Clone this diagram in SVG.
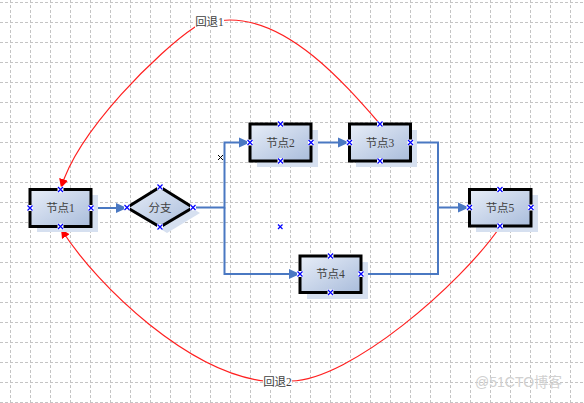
<svg xmlns="http://www.w3.org/2000/svg" xmlns:xlink="http://www.w3.org/1999/xlink" width="584" height="403" viewBox="0 0 584 403">
<style>
.grid{fill:none;stroke:#c4c4c4;stroke-width:1;stroke-dasharray:3 2;shape-rendering:crispEdges}
.box{stroke:#000;stroke-width:3;fill:url(#g)}
.sh{fill:#d6e0f0}
.lbl{font-family:"Liberation Serif","Noto Sans CJK SC",serif;font-size:11.5px;fill:#404040;text-anchor:middle;dominant-baseline:central}
.blue{fill:none;stroke:#4a78c2;stroke-width:2}
.red{fill:none;stroke:#ff2020;stroke-width:1.2}
.wm{font-family:"Liberation Sans","Noto Sans CJK SC",sans-serif;font-size:14px;fill:#d0d0d0;dominant-baseline:central}
</style>
<defs>
<linearGradient id="g" x1="0" y1="0" x2="1" y2="1">
<stop offset="0" stop-color="#e8eef8"/>
<stop offset="1" stop-color="#a9bcdb"/>
</linearGradient>
<marker id="ab" markerUnits="userSpaceOnUse" markerWidth="12" markerHeight="12" refX="11" refY="6" orient="auto">
<path d="M0,1 L11,6 L0,11 z" fill="#4a78c2"/>
</marker>
<marker id="ar" markerUnits="userSpaceOnUse" markerWidth="10" markerHeight="10" refX="9" refY="4.5" orient="auto">
<path d="M0,0 L9,4.5 L0,9 z" fill="#ff0000"/>
</marker>
<g id="cp">
<rect x="-3" y="-3" width="6" height="6" fill="#fff"/>
<path d="M-2.5,-2.5 L2.5,2.5 M2.5,-2.5 L-2.5,2.5" stroke="#0000ff" stroke-width="1.2"/>
</g>
</defs>
<rect width="584" height="403" fill="#fff"/>
<path class="grid" d="M10.5 0V403M30.5 0V403M50.5 0V403M70.5 0V403M90.5 0V403M110.5 0V403M130.5 0V403M150.5 0V403M170.5 0V403M190.5 0V403M210.5 0V403M230.5 0V403M250.5 0V403M270.5 0V403M290.5 0V403M310.5 0V403M330.5 0V403M350.5 0V403M370.5 0V403M390.5 0V403M410.5 0V403M430.5 0V403M450.5 0V403M470.5 0V403M490.5 0V403M510.5 0V403M530.5 0V403M550.5 0V403M570.5 0V403"/>
<path class="grid" d="M0 2.5H584M0 22.5H584M0 42.5H584M0 62.5H584M0 82.5H584M0 102.5H584M0 122.5H584M0 142.5H584M0 162.5H584M0 182.5H584M0 202.5H584M0 222.5H584M0 242.5H584M0 262.5H584M0 282.5H584M0 302.5H584M0 322.5H584M0 342.5H584M0 362.5H584M0 382.5H584M0 402.5H584"/>

<g id="connectors">
<path class="blue" d="M91,208 H127" marker-end="url(#ab)"/>
<path class="blue" d="M193,207.5 H224.5 V142.5 H250" marker-end="url(#ab)"/>
<path class="blue" d="M224.5,207.5 V274 H300" marker-end="url(#ab)"/>
<path class="blue" d="M311,142.5 H349" marker-end="url(#ab)"/>
<path class="blue" d="M411,142.5 H438 V207.5 H469" marker-end="url(#ab)"/>
<path class="blue" d="M361,274 H438 V207.5"/>
<path class="red" d="M380,124 C345,84 290,20 230,20 C215,20 205,23 195,27 C160,50 78,130 61,188" marker-end="url(#ar)"/>
<path class="red" d="M500,227 C460,285 350,380 291,381 L264,381 C190,372 100,290 61,229" marker-end="url(#ar)"/>
<g id="label1"><rect x="195" y="15" width="29" height="14" fill="#fff"/><text class="lbl" x="209.5" y="22">回退1</text></g>
<g id="label2"><rect x="263" y="375" width="29" height="14" fill="#fff"/><text class="lbl" x="277.5" y="382">回退2</text></g>
</g>

<g id="node1">
<rect class="sh" x="37" y="195" width="61" height="37"/>
<rect class="box" x="30" y="189.5" width="61" height="37"/>
<text class="lbl" x="60.5" y="208">节点1</text>
<use xlink:href="#cp" x="60.5" y="189.5"/><use xlink:href="#cp" x="60.5" y="226.5"/><use xlink:href="#cp" x="30" y="208"/><use xlink:href="#cp" x="91" y="208"/>
</g>
<g id="branch">
<path class="sh" d="M167,193 L200,213 L167,233 L134,213 z"/>
<path class="box" d="M160,187 L193,207.5 L160,227 L127,207.5 z"/>
<text class="lbl" x="160" y="207.5">分支</text>
<use xlink:href="#cp" x="160" y="187"/><use xlink:href="#cp" x="160" y="227"/><use xlink:href="#cp" x="127" y="207.5"/><use xlink:href="#cp" x="193" y="207.5"/>
</g>
<g id="node2">
<rect class="sh" x="257" y="130" width="61" height="37"/>
<rect class="box" x="250" y="124" width="61" height="37"/>
<text class="lbl" x="280.5" y="142.5">节点2</text>
<use xlink:href="#cp" x="280.5" y="124"/><use xlink:href="#cp" x="280.5" y="161"/><use xlink:href="#cp" x="250" y="142.5"/><use xlink:href="#cp" x="311" y="142.5"/>
</g>
<g id="node3">
<rect class="sh" x="356" y="130" width="61" height="37"/>
<rect class="box" x="349.5" y="124" width="61" height="37"/>
<text class="lbl" x="380" y="142.5">节点3</text>
<use xlink:href="#cp" x="380" y="124"/><use xlink:href="#cp" x="380" y="161"/><use xlink:href="#cp" x="349.5" y="142.5"/><use xlink:href="#cp" x="410.5" y="142.5"/>
</g>
<g id="node4">
<rect class="sh" x="307" y="262" width="61" height="37"/>
<rect class="box" x="300" y="256" width="61" height="36.5"/>
<text class="lbl" x="330.5" y="274">节点4</text>
<use xlink:href="#cp" x="330.5" y="256"/><use xlink:href="#cp" x="330.5" y="292.5"/><use xlink:href="#cp" x="300" y="274"/><use xlink:href="#cp" x="361" y="274"/>
</g>
<g id="node5">
<rect class="sh" x="476" y="195" width="62" height="37"/>
<rect class="box" x="469.5" y="189.5" width="61.5" height="36.5"/>
<text class="lbl" x="500" y="207.5">节点5</text>
<use xlink:href="#cp" x="500" y="189.5"/><use xlink:href="#cp" x="500" y="226"/><use xlink:href="#cp" x="469.5" y="207.5"/><use xlink:href="#cp" x="531" y="207.5"/>
</g>

<path d="M218,155 L223,160 M223,155 L218,160" stroke="#000" stroke-width="1"/>
<path d="M278,224.5 L282.5,229 M282.5,224.5 L278,229" stroke="#0000ff" stroke-width="1.2"/>
<text class="wm" x="475" y="382">@51CTO博客</text>
</svg>
